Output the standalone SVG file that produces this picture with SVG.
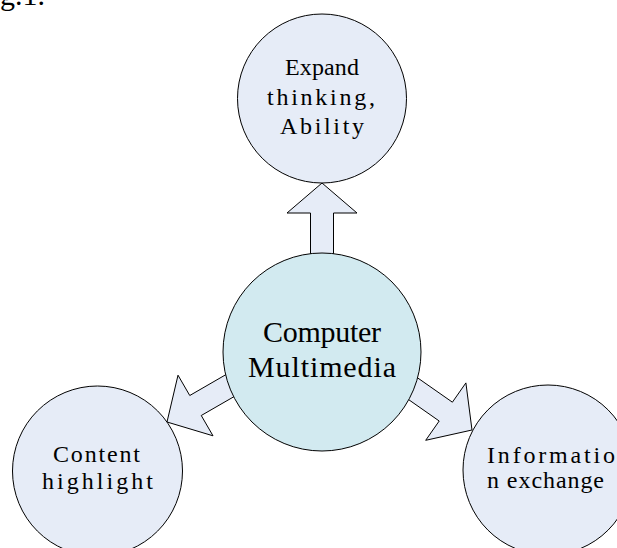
<svg xmlns="http://www.w3.org/2000/svg" width="617" height="548" viewBox="0 0 617 548">
<style>
.bg{fill:#ffffff}
.outer{fill:#e6ecf7;stroke:#000;stroke-width:1}
.center{fill:#d2eaf0;stroke:#000;stroke-width:1}
.arrow{fill:#e6ecf7;stroke:#000;stroke-width:1;stroke-linejoin:miter}
.t{font-family:"Liberation Serif","Times New Roman",serif;font-size:24px;fill:#000}
.tc{font-family:"Liberation Serif","Times New Roman",serif;font-size:30px;fill:#000}
.cap{font-family:"Liberation Serif","Times New Roman",serif;font-size:30px;fill:#000}
</style>
<rect class="bg" x="0" y="0" width="617" height="548"/>
<text class="cap" x="-25" y="5">Fig.1.</text>
<g id="connectors">
  <polygon class="arrow" points="322,183 357,213 333.5,213 333.5,262 310.5,262 310.5,213 287,213"/>
  <polygon class="arrow" points="167,422 178,375.2 189.75,395.5 228.7,373 240.3,393 201.25,415.5 213,435.8"/>
  <polygon class="arrow" points="472,430 465.9,382.9 452.4,402.2 415.5,376.4 402.3,395.2 439.2,421 425.7,440.3"/>
</g>
<g id="node-top">
  <circle class="outer" cx="322" cy="98.5" r="84.5"/>
  <text class="t" x="285" y="75" textLength="74" lengthAdjust="spacing">Expand</text>
  <text class="t" x="267" y="105" textLength="108" lengthAdjust="spacing">thinking,</text>
  <text class="t" x="280" y="134" textLength="84" lengthAdjust="spacing">Ability</text>
</g>
<g id="node-center">
  <circle class="center" cx="322" cy="352" r="99"/>
  <text class="tc" x="263" y="342" textLength="118" lengthAdjust="spacing">Computer</text>
  <text class="tc" x="248" y="377" textLength="148" lengthAdjust="spacing">Multimedia</text>
</g>
<g id="node-left">
  <circle class="outer" cx="97.5" cy="471" r="85"/>
  <text class="t" x="53" y="462" textLength="87" lengthAdjust="spacing">Content</text>
  <text class="t" x="42" y="489" textLength="111" lengthAdjust="spacing">highlight</text>
</g>
<g id="node-right">
  <circle class="outer" cx="548" cy="470" r="85"/>
  <text class="t" x="487" y="463" textLength="128" lengthAdjust="spacing">Informatio</text>
  <text class="t" x="487" y="488" textLength="117" lengthAdjust="spacing">n exchange</text>
</g>
</svg>
